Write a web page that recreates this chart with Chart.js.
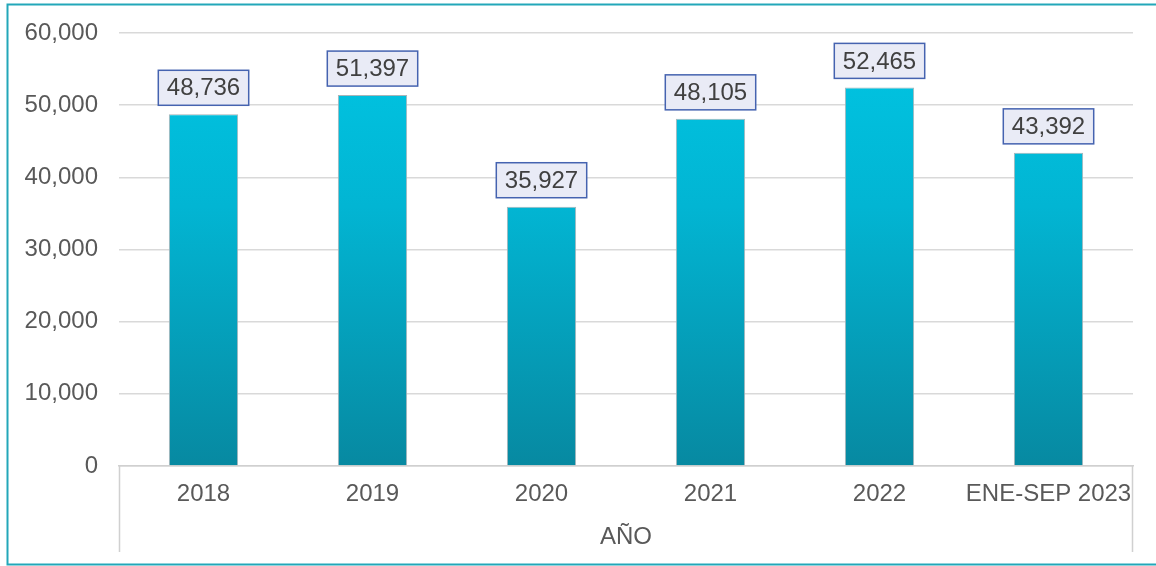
<!DOCTYPE html>
<html>
<head>
<meta charset="utf-8">
<script src="https://cdn.jsdelivr.net/npm/chart.js@4/dist/chart.umd.min.js"></script>
<style>
  body { margin: 0; background: #fff; }
  #wrap { width: 1156px; height: 566px; position: relative; }
</style>
</head>
<body>
<div id="wrap"><canvas id="myChart" width="1156" height="566"></canvas></div>
<script>
var categories = ['2018', '2019', '2020', '2021', '2022', 'ENE-SEP 2023'];
var values = [48736, 51397, 35927, 48105, 52465, 43392];
var yTicks = [0, 10000, 20000, 30000, 40000, 50000, 60000];

function fmt(v) {
  return v.toLocaleString('en-US');
}

// outer teal frame + the grey box under the x axis
var framePlugin = {
  id: 'frame',
  afterDraw: function (chart) {
    var ctx = chart.ctx, a = chart.chartArea;
    ctx.save();
    ctx.strokeStyle = '#23a7b9';
    ctx.lineWidth = 2;
    ctx.beginPath();
    ctx.moveTo(1160, 4.5);
    ctx.lineTo(7.5, 4.5);
    ctx.lineTo(7.5, 564.5);
    ctx.lineTo(1160, 564.5);
    ctx.stroke();

    ctx.strokeStyle = '#d0d0d0';
    ctx.lineWidth = 1.5;
    ctx.beginPath();
    ctx.moveTo(a.left + 0.5, a.bottom);
    ctx.lineTo(a.left + 0.5, 552);
    ctx.moveTo(a.right - 0.5, a.bottom);
    ctx.lineTo(a.right - 0.5, 552);
    ctx.stroke();
    ctx.restore();
  }
};

// value boxes above the bars
var labelPlugin = {
  id: 'valueBoxes',
  afterDatasetsDraw: function (chart) {
    var ctx = chart.ctx;
    var meta = chart.getDatasetMeta(0);
    ctx.save();
    ctx.font = '24px "Liberation Sans", Arial, sans-serif';
    ctx.textAlign = 'center';
    ctx.textBaseline = 'middle';
    meta.data.forEach(function (bar, i) {
      var txt = fmt(values[i]);
      var w = ctx.measureText(txt).width + 17;
      var h = 35;
      var x = bar.x - w / 2;
      var y = bar.y - 9 - h;
      ctx.fillStyle = '#e9ebf6';
      ctx.fillRect(x, y, w, h);
      ctx.strokeStyle = '#4563b0';
      ctx.lineWidth = 1.5;
      ctx.strokeRect(x, y, w, h);
      ctx.fillStyle = '#404040';
      ctx.fillText(txt, bar.x, y + h / 2 + 1);
    });
    ctx.restore();
  }
};

var ctx = document.getElementById('myChart').getContext('2d');
var grad = ctx.createLinearGradient(0, 33, 0, 466);
grad.addColorStop(0, '#00c6e4');
grad.addColorStop(0.4, '#02b5d3');
grad.addColorStop(1, '#0789a1');

var font24 = { family: '"Liberation Sans", Arial, sans-serif', size: 24 };

var chart = new Chart(ctx, {
  type: 'bar',
  data: {
    labels: categories,
    datasets: [{
      data: values,
      backgroundColor: grad,
      borderColor: '#a9b4b8',
      borderWidth: { left: 1, right: 1, top: 1, bottom: 0 },
      categoryPercentage: 1,
      barPercentage: 0.41
    }]
  },
  options: {
    responsive: false,
    animation: false,
    events: [],
    layout: { padding: { left: 0, right: 23, top: 33, bottom: 0 } },
    plugins: {
      legend: { display: false },
      tooltip: { enabled: false }
    },
    scales: {
      x: {
        grid: { display: false, drawTicks: false },
        border: { display: true, color: '#d0d0d0', width: 1.5 },
        ticks: {
          color: '#595959',
          font: font24,
          padding: 14,
          maxRotation: 0,
          autoSkip: false
        },
        title: {
          display: true,
          text: 'AÑO',
          color: '#595959',
          font: font24,
          padding: { top: 0, bottom: 14 }
        },
        afterFit: function (scale) { scale.height = 100; }
      },
      y: {
        min: 0,
        max: 60000,
        afterBuildTicks: function (scale) {
          scale.ticks = yTicks.map(function (v) { return { value: v }; });
        },
        grid: { color: '#d9d9d9', lineWidth: 1.5, drawTicks: false },
        border: { display: false },
        ticks: {
          color: '#595959',
          font: font24,
          padding: 21,
          callback: function (v) { return fmt(v); }
        },
        afterFit: function (scale) {
          scale.width = 119;
          // tick padding is only meant for the horizontal gap here
          scale.paddingTop = 15;
          scale.paddingBottom = 15;
        }
      }
    }
  },
  plugins: [framePlugin, labelPlugin]
});
</script>
</body>
</html>
